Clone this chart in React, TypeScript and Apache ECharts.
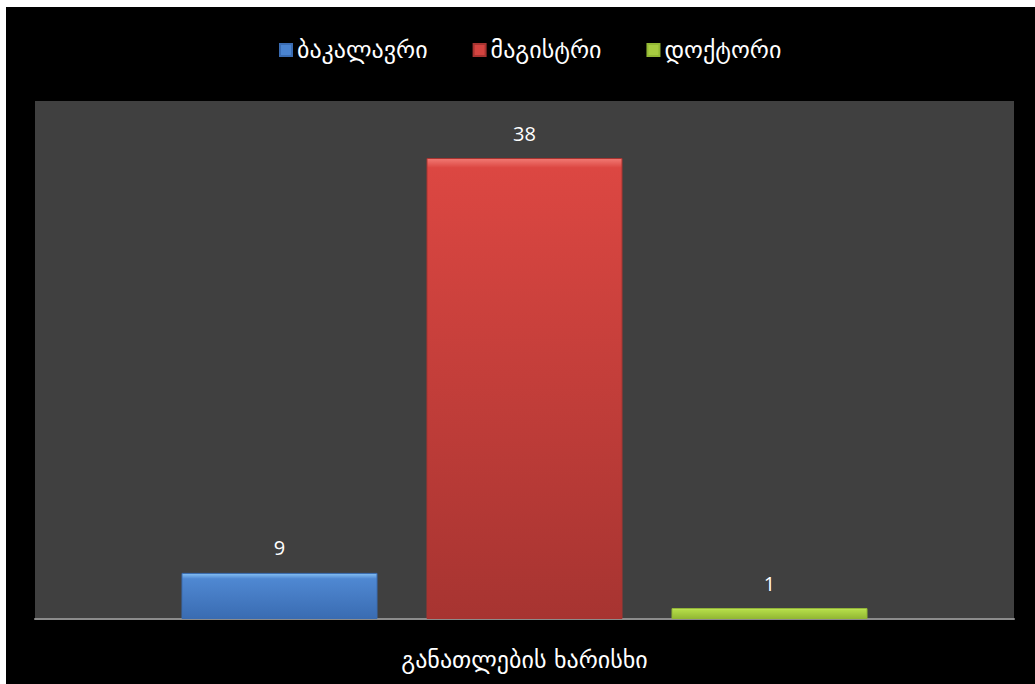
import React, { useEffect, useRef } from "react";
import * as echarts from "echarts";

const categories = [""];
const seriesNames = ["ბაკალავრი", "მაგისტრი", "დოქტორი"];
// bar heights as drawn in the picture (on the hidden value axis)
const barValues = [3.8, 38, 0.9];
// data labels printed above the bars
const barLabels = ["9", "38", "1"];
const axisTitle = "განათლების ხარისხი";

const palette = [
  { light: "#86c0f4", mid: "#4f88d2", dark: "#3a6cb2", icon: "#4a84d0" },
  { light: "#f27a74", mid: "#dc4742", dark: "#a73431", icon: "#d44440" },
  { light: "#dcf88a", mid: "#b4dc48", dark: "#93b834", icon: "#a8cc40" },
];

export default function App() {
  const ref = useRef<HTMLDivElement>(null);
  useEffect(() => {
    if (!ref.current) return;
    const chart = echarts.init(ref.current, undefined, { renderer: "svg" });
    const series = seriesNames.map((name, i) => ({
      name,
      type: "bar",
      barWidth: 196,
      barGap: "25%",
      data: [barValues[i]],
      itemStyle: {
        color: new echarts.graphic.LinearGradient(0, 0, 0, 1, [
          { offset: 0, color: palette[i].light },
          { offset: i === 1 ? 0.02 : 0.12, color: palette[i].mid },
          { offset: 1, color: palette[i].dark },
        ]),
        borderColor: palette[i].dark,
        borderWidth: 1,
      },
      label: {
        show: true,
        position: "top",
        distance: 15,
        color: "#ffffff",
        fontFamily: "Open Sans",
        fontSize: 20,
        formatter: () => barLabels[i],
      },
    }));
    chart.setOption({
      animation: false,
      backgroundColor: "#000000",
      legend: {
        top: 26,
        left: 268,
        itemWidth: 12,
        itemHeight: 12,
        itemGap: 45,
        icon: "rect",
        textStyle: { color: "#ffffff", fontFamily: "DejaVu Sans", fontSize: 24 },
        data: seriesNames.map((n, i) => ({ name: n, itemStyle: { color: palette[i].icon } })),
      },
      grid: {
        left: 29,
        right: 21,
        top: 94,
        bottom: 65,
        show: true,
        backgroundColor: "#404040",
        borderWidth: 0,
      },
      xAxis: {
        type: "category",
        data: categories,
        axisTick: { show: false },
        axisLabel: { show: false },
        axisLine: { lineStyle: { color: "#8c8c8c", width: 2 } },
        name: axisTitle,
        nameLocation: "middle",
        nameGap: 29,
        nameTextStyle: { color: "#ffffff", fontFamily: "DejaVu Sans", fontSize: 24 },
      },
      yAxis: {
        type: "value",
        min: 0,
        max: 42.7,
        show: false,
        splitLine: { show: false },
      },
      series,
    });
    return () => chart.dispose();
  }, []);
  return (
    <div
      ref={ref}
      style={{ position: "fixed", left: 6, top: 7, width: 1029, height: 677 }}
    />
  );
}
